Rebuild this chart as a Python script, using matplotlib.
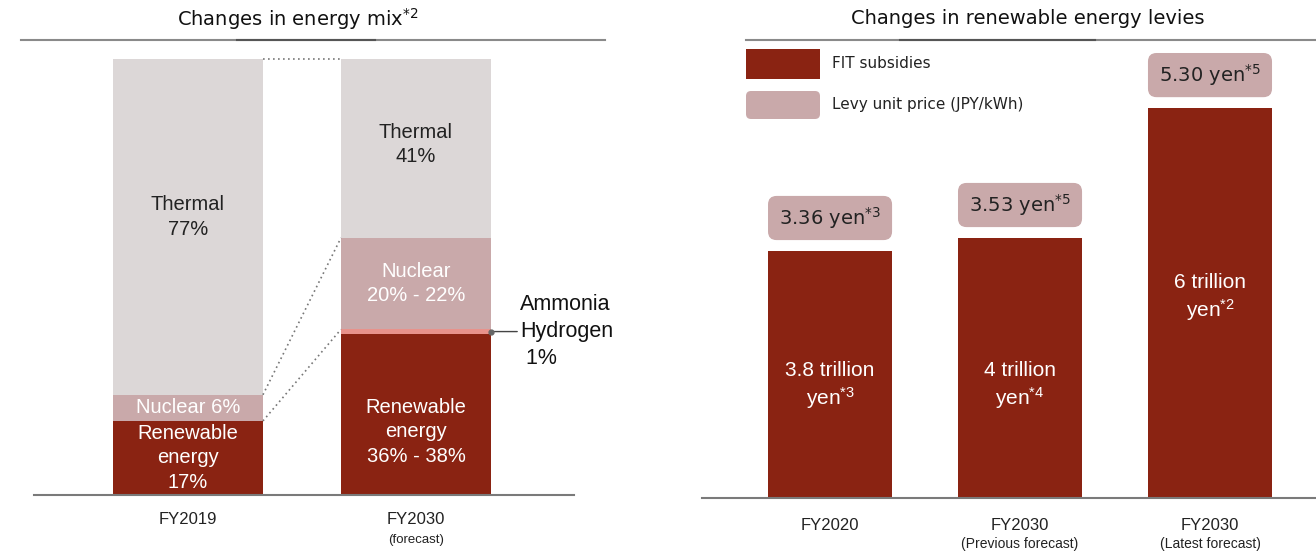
import matplotlib
matplotlib.use("Agg")
import matplotlib.pyplot as plt
from matplotlib.patches import FancyBboxPatch, Rectangle

plt.rcParams['mathtext.default'] = 'regular'

# ---------------- data ----------------
mix_years = ["FY2019", "FY2030"]
mix_sub = ["", "(forecast)"]
renewable = [17, 37]
ammonia = [0, 1]
nuclear = [6, 21]
thermal = [77, 41]
mix_labels_renew = ["Renewable\nenergy\n17%", "Renewable\nenergy\n36% - 38%"]
mix_labels_nuc = ["Nuclear 6%", "Nuclear\n20% - 22%"]
mix_labels_therm = ["Thermal\n77%", "Thermal\n41%"]

levy_years = ["FY2020", "FY2030", "FY2030"]
levy_sub = ["", "(Previous forecast)", "(Latest forecast)"]
fit_subsidies = [3.8, 4.0, 6.0]          # trillion yen
fit_labels = ["3.8 trillion\nyen$^{*3}$", "4 trillion\nyen$^{*4}$", "6 trillion\nyen$^{*2}$"]
levy_price = [3.36, 3.53, 5.30]          # JPY/kWh
levy_notes = ["*3", "*5", "*5"]

# ---------------- style ----------------
W, H = 1316, 556
RED = "#8a2312"
PINK = "#c9a9aa"
GREY = "#dcd7d7"
AMM = "#e8928b"
LINE = "#8a8a8a"
ARIAL = "Liberation Sans"
TAHOMA = "DejaVu Sans"

fig = plt.figure(figsize=(W / 100, H / 100), dpi=100)


def px_axes(x0, y0, x1, y1):
    return fig.add_axes([x0 / W, 1 - y1 / H, (x1 - x0) / W, (y1 - y0) / H])


# overlay for titles / legend
ov = fig.add_axes([0, 0, 1, 1], zorder=5)
ov.set_xlim(0, W)
ov.set_ylim(H, 0)
ov.axis("off")
ov.patch.set_alpha(0)

ov.text(298, 19, "Changes in energy mix$^{*2}$", ha="center", va="center",
        fontsize=14, family=TAHOMA, color="#111")
ov.plot([21, 605], [40, 40], color=LINE, lw=1.5)
ov.plot([237, 375], [40, 40], color="#555", lw=1.5)
ov.text(1028, 19, "Changes in renewable energy levies", ha="center", va="center",
        fontsize=14, family=TAHOMA, color="#111")
ov.plot([746, 1316], [40, 40], color=LINE, lw=1.5)
ov.plot([900, 1095], [40, 40], color="#555", lw=1.5)

# legend
ov.add_patch(Rectangle((746, 49), 74, 30, color=RED, lw=0))
ov.text(832, 64, "FIT subsidies", va="center", ha="left", fontsize=11,
        family=TAHOMA, color="#222")
ov.add_patch(FancyBboxPatch((746, 91), 74, 28, boxstyle="round,pad=0,rounding_size=5",
                            color=PINK, lw=0))
ov.text(832, 105, "Levy unit price (JPY/kWh)", va="center", ha="left", fontsize=11,
        family=TAHOMA, color="#222")

# ---------------- left: energy mix ----------------
axL = px_axes(34, 40, 574, 495)
bw = 0.658
xs = list(range(len(mix_years)))
b0 = [0] * len(xs)
axL.bar(xs, renewable, bw, bottom=b0, color=RED, lw=0)
b1 = [a + b for a, b in zip(b0, renewable)]
axL.bar(xs, ammonia, bw, bottom=b1, color=AMM, lw=0)
b2 = [a + b for a, b in zip(b1, ammonia)]
axL.bar(xs, nuclear, bw, bottom=b2, color=PINK, lw=0)
b3 = [a + b for a, b in zip(b2, nuclear)]
axL.bar(xs, thermal, bw, bottom=b3, color=GREY, lw=0)
b4 = [a + b for a, b in zip(b3, thermal)]

axL.set_xlim(-0.675, 1.693)
axL.set_ylim(0, 104.4)
for s in ["top", "right", "left"]:
    axL.spines[s].set_visible(False)
axL.spines["bottom"].set_color("#7a7a7a")
axL.spines["bottom"].set_linewidth(1.5)
axL.set_xticks([])
axL.set_yticks([])

# connectors
dot = dict(ls=(0, (1, 2)), color="#777", lw=1.2)
axL.plot([0 + bw / 2, 1 - bw / 2], [b1[0], b2[1]], **dot)
axL.plot([0 + bw / 2, 1 - bw / 2], [b3[0], b3[1]], **dot)
axL.plot([0 + bw / 2, 1 - bw / 2], [b4[0], b4[1]], **dot)

lab_kw = dict(ha="center", va="center", family=ARIAL, fontsize=14.5, linespacing=1.35)
label_off_therm = [2.3, 1]
label_off_renew = [0, -4]
for i in xs:
    axL.text(i, (b3[i] + b4[i]) / 2 + label_off_therm[i], mix_labels_therm[i], color="#222", **lab_kw)
    axL.text(i, (b2[i] + b3[i]) / 2, mix_labels_nuc[i], color="white", **lab_kw)
    axL.text(i, (b0[i] + b1[i]) / 2 + label_off_renew[i], mix_labels_renew[i], color="white", **lab_kw)
    axL.annotate(mix_years[i], xy=(i, 0), xycoords=("data", "axes fraction"),
                 xytext=(0, -24), textcoords="offset pixels", ha="center", va="center",
                 fontsize=12, family=ARIAL, color="#222")
    if mix_sub[i]:
        axL.annotate(mix_sub[i], xy=(i, 0), xycoords=("data", "axes fraction"),
                     xytext=(0, -45), textcoords="offset pixels", ha="center", va="center",
                     fontsize=9.5, family=ARIAL, color="#222")

# ammonia annotation
ay = b1[1] + ammonia[1] / 2
axL.plot([1 + bw / 2], [ay], "o", ms=3.5, color="#666", clip_on=False, zorder=6)
axL.annotate("Ammonia\nHydrogen\n 1%", xy=(1 + bw / 2, ay), xycoords="data",
             xytext=(29, 0), textcoords="offset pixels", ha="left", va="center",
             fontsize=15.5, family=ARIAL, color="#111", linespacing=1.4,
             arrowprops=dict(arrowstyle="-", color="#444", lw=1, shrinkA=0, shrinkB=0,
                             relpos=(0, 0.5)))

# ---------------- right: levies ----------------
axR = px_axes(702, 40, 1316, 498)
rw = 0.653
rx = list(range(len(levy_years)))
axR.bar(rx, fit_subsidies, rw, color=RED, lw=0)
axR.set_xlim(-0.674, 2.558)
axR.set_ylim(0, 7.05)
for s in ["top", "right", "left"]:
    axR.spines[s].set_visible(False)
axR.spines["bottom"].set_color("#7a7a7a")
axR.spines["bottom"].set_linewidth(1.5)
axR.set_xticks([])
axR.set_yticks([])

label_y = [1.72, 1.72, 3.08]
box_h = 0.68
gap = 0.17
aspect = (7.05 / 458) / (3.232 / 614)
for i in rx:
    axR.text(i, label_y[i], fit_labels[i], color="white", ha="center", va="center",
             family=ARIAL, fontsize=15, linespacing=1.25)
    y0 = fit_subsidies[i] + gap
    axR.add_patch(FancyBboxPatch((i - rw / 2, y0), rw, box_h,
                                 boxstyle="round,pad=0,rounding_size=0.045",
                                 mutation_aspect=aspect, color=PINK, lw=0, clip_on=False))
    axR.text(i, y0 + box_h / 2, f"{levy_price[i]:.2f} yen$^{{{levy_notes[i]}}}$",
             ha="center", va="center", family=TAHOMA, fontsize=14, color="#222")
    axR.annotate(levy_years[i], xy=(i, 0), xycoords=("data", "axes fraction"),
                 xytext=(0, -27), textcoords="offset pixels", ha="center", va="center",
                 fontsize=12, family=ARIAL, color="#222")
    if levy_sub[i]:
        axR.annotate(levy_sub[i], xy=(i, 0), xycoords=("data", "axes fraction"),
                     xytext=(0, -46), textcoords="offset pixels", ha="center", va="center",
                     fontsize=10, family=ARIAL, color="#222")

fig.savefig("out.png", dpi=100)
